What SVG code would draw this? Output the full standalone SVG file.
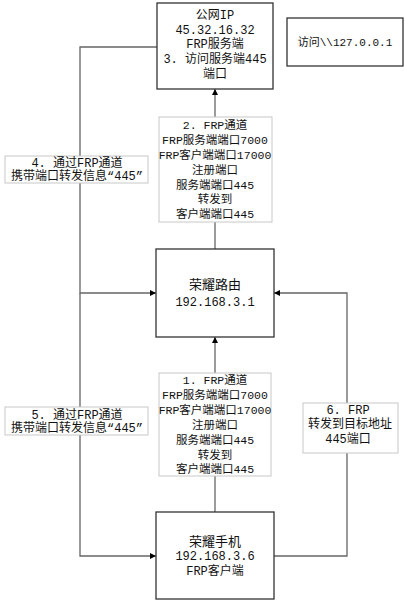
<svg xmlns="http://www.w3.org/2000/svg" width="405" height="600" viewBox="0 0 405 600">
<style>
text{font-family:"Liberation Mono","Noto Sans CJK SC",monospace;font-size:12px;fill:#111;text-anchor:middle}
.lbl-t text{font-size:11.5px}
.node{fill:#fff;stroke:#333;stroke-width:1.3}
.lbl{fill:#fff;stroke:#c8c8c8;stroke-width:1}
.edge{fill:none;stroke:#666;stroke-width:1.3}
</style>
<defs>
<marker id="ah" viewBox="0 0 10 10" refX="10" refY="5" markerWidth="6" markerHeight="8" orient="auto" markerUnits="userSpaceOnUse">
<path d="M0,0 L10,5 L0,10 Z" fill="#000"/>
</marker>
</defs>
<rect width="405" height="600" fill="#fff"/>
<g id="connectors">
<path class="edge" d="M215,249 V89" marker-end="url(#ah)"/>
<path class="edge" d="M215,512 V337" marker-end="url(#ah)"/>
<path class="edge" d="M157,47 H80 V293 H156" marker-end="url(#ah)"/>
<path class="edge" d="M80,293 V556 H156" marker-end="url(#ah)"/>
<path class="edge" d="M274,556 H347 V293 H274" marker-end="url(#ah)"/>
</g>
<g id="node-public">
<rect class="node" x="157" y="3" width="116" height="86"/>
<text x="215" y="19">公网IP</text>
<text x="215" y="34">45.32.16.32</text>
<text x="215" y="48">FRP服务端</text>
<text x="215" y="63">3. 访问服务端445</text>
<text x="215" y="78">端口</text>
</g>
<g id="node-access">
<rect class="node" x="287" y="18" width="116" height="48"/>
<text x="345" y="46" style="font-size:11px">访问\\127.0.0.1</text>
</g>
<g id="node-router">
<rect class="node" x="156" y="249" width="118" height="88"/>
<text x="215" y="289" style="font-size:13px">荣耀路由</text>
<text x="215" y="306">192.168.3.1</text>
</g>
<g id="node-phone">
<rect class="node" x="156" y="512" width="118" height="87"/>
<text x="215" y="546" style="font-size:13px">荣耀手机</text>
<text x="215" y="560">192.168.3.6</text>
<text x="215" y="575">FRP客户端</text>
</g>
<g id="label-2" class="lbl-t">
<rect class="lbl" x="159" y="117" width="113" height="105"/>
<text x="215" y="129">2. FRP通道</text>
<text x="215" y="144">FRP服务端端口7000</text>
<text x="215" y="159">FRP客户端端口17000</text>
<text x="215" y="174">注册端口</text>
<text x="215" y="189">服务端端口445</text>
<text x="215" y="203">转发到</text>
<text x="215" y="218">客户端端口445</text>
</g>
<g id="label-1" class="lbl-t">
<rect class="lbl" x="159" y="373" width="112" height="103"/>
<text x="215" y="384">1. FRP通道</text>
<text x="215" y="399">FRP服务端端口7000</text>
<text x="215" y="414">FRP客户端端口17000</text>
<text x="215" y="429">注册端口</text>
<text x="215" y="444">服务端端口445</text>
<text x="215" y="459">转发到</text>
<text x="215" y="473">客户端端口445</text>
</g>
<g id="label-4">
<rect class="lbl" x="5" y="156" width="143" height="27"/>
<text x="77" y="167">4. 通过FRP通道</text>
<text x="77" y="180">携带端口转发信息“445”</text>
</g>
<g id="label-5">
<rect class="lbl" x="5" y="407" width="143" height="28"/>
<text x="77" y="419">5. 通过FRP通道</text>
<text x="77" y="432">携带端口转发信息“445”</text>
</g>
<g id="label-6">
<rect class="lbl" x="303" y="403" width="95" height="50"/>
<text x="348" y="414">6. FRP</text>
<text x="350" y="428">转发到目标地址</text>
<text x="348" y="443">445端口</text>
</g>
</svg>
